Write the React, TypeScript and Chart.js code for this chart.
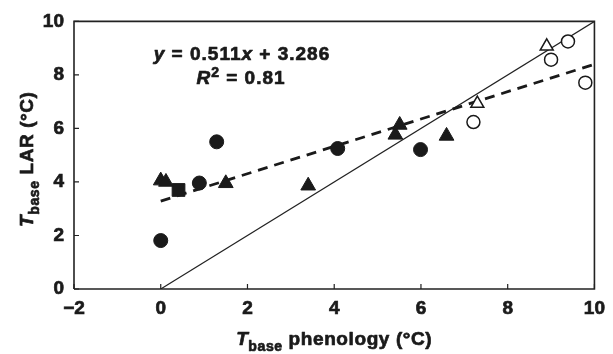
import React, { useEffect, useRef } from "react";
import { Chart, registerables } from "chart.js";

Chart.register(...registerables);

const filledCircleX = [0, 0.89, 1.29, 4.08, 5.99];
const filledCircleY = [1.81, 3.96, 5.5, 5.25, 5.21];
const filledTriangleX = [0, 0.12, 1.5, 3.4, 5.41, 5.51, 6.59];
const filledTriangleY = [4.05, 4.0, 3.95, 3.86, 5.76, 6.13, 5.72];
const filledSquareX = [0.41];
const filledSquareY = [3.7];
const openCircleX = [7.21, 9.0, 9.39, 9.79];
const openCircleY = [6.24, 8.57, 9.25, 7.71];
const openTriangleX = [7.3, 8.9];
const openTriangleY = [6.93, 9.07];
const oneToOneX = [0, 10];
const oneToOneY = [0, 10];
const regressionX = [0, 10];
const regressionY = [3.286, 8.396];

const xTicks = [-2, 0, 2, 4, 6, 8, 10];
const yTicks = [0, 2, 4, 6, 8, 10];

const FONT = '"Liberation Sans", Arial, sans-serif';
const INK = "#1a1a1a";

const pts = (xs: number[], ys: number[]) => xs.map((x, i) => ({ x, y: ys[i] }));

function drawSegments(ctx: CanvasRenderingContext2D, segs: any[], cx: number, baseline: number, spacing: string) {
  ctx.save();
  (ctx as any).letterSpacing = spacing;
  let total = 0;
  const widths = segs.map((s) => {
    ctx.font = s.font;
    const w = ctx.measureText(s.t).width;
    total += w;
    return w;
  });
  let x = cx - total / 2;
  ctx.textAlign = "left";
  ctx.textBaseline = "alphabetic";
  ctx.fillStyle = INK;
  ctx.strokeStyle = INK;
  ctx.lineWidth = 0.7;
  ctx.lineJoin = "round";
  segs.forEach((s, i) => {
    ctx.font = s.font;
    ctx.fillText(s.t, x, baseline + (s.dy || 0));
    ctx.strokeText(s.t, x, baseline + (s.dy || 0));
    x += widths[i];
  });
  ctx.restore();
}

const decorPlugin = {
  id: "decor",
  afterDraw(chart: any) {
    const ctx = chart.ctx as CanvasRenderingContext2D;
    const { left, right, top, bottom } = chart.chartArea;
    const xs = chart.scales.x;
    const ys = chart.scales.y;
    ctx.save();
    ctx.strokeStyle = "#222";
    ctx.lineWidth = 1.6;
    ctx.beginPath();
    ctx.moveTo(left, bottom);
    ctx.lineTo(left, top);
    ctx.lineTo(right, top);
    ctx.lineTo(right, bottom);
    ctx.lineTo(left, bottom);
    ctx.stroke();
    ctx.lineWidth = 1.2;
    ctx.beginPath();
    xTicks.forEach((v) => {
      const px = xs.getPixelForValue(v);
      ctx.moveTo(px, bottom);
      ctx.lineTo(px, bottom - 5);
    });
    yTicks.forEach((v) => {
      const py = ys.getPixelForValue(v);
      ctx.moveTo(left, py);
      ctx.lineTo(left + 5, py);
    });
    ctx.stroke();
    ctx.restore();

    const big = `bold 19px ${FONT}`;
    const bigIt = `italic bold 19px ${FONT}`;
    const small = `bold 14px ${FONT}`;
    const cx = (left + right) / 2;
    drawSegments(ctx, [
      { t: "T", font: bigIt },
      { t: "base", font: small, dy: 6 },
      { t: " phenology (°C)", font: big },
    ], cx, 345, "0.6px");
    ctx.save();
    ctx.translate(33, (top + bottom) / 2 + 4);
    ctx.rotate(-Math.PI / 2);
    drawSegments(ctx, [
      { t: "T", font: bigIt },
      { t: "base", font: small, dy: 6 },
      { t: " LAR (°C)", font: big },
    ], 0, 0, "0.6px");
    ctx.restore();
    drawSegments(ctx, [
      { t: "y", font: bigIt },
      { t: " = 0.511", font: big },
      { t: "x", font: bigIt },
      { t: " + 3.286", font: big },
    ], 242, 60, "1px");
    drawSegments(ctx, [
      { t: "R", font: bigIt },
      { t: "2", font: small, dy: -7 },
      { t: " = 0.81", font: big },
    ], 241, 84, "1px");
  },
};

export default function App() {
  const ref = useRef<HTMLCanvasElement>(null);
  useEffect(() => {
    document.body.style.margin = "0";
    const chart = new Chart(ref.current as HTMLCanvasElement, {
      type: "scatter",
      data: {
        datasets: [
          {
            type: "line",
            data: pts(oneToOneX, oneToOneY),
            borderColor: "#222",
            borderWidth: 1.2,
            pointRadius: 0,
            fill: false,
            order: 10,
          } as any,
          {
            type: "line",
            data: pts(regressionX, regressionY),
            borderColor: INK,
            borderWidth: 2.8,
            borderDash: [10, 7],
            pointRadius: 0,
            fill: false,
            order: 9,
          } as any,
          {
            data: pts(filledCircleX, filledCircleY),
            pointStyle: "circle",
            pointRadius: 7,
            backgroundColor: INK,
            borderColor: INK,
            borderWidth: 1,
          },
          {
            data: pts(filledTriangleX, filledTriangleY),
            pointStyle: "triangle",
            pointRadius: 8.5,
            backgroundColor: INK,
            borderColor: INK,
            borderWidth: 1,
          },
          {
            data: pts(filledSquareX, filledSquareY),
            pointStyle: "rect",
            pointRadius: 9,
            backgroundColor: INK,
            borderColor: INK,
            borderWidth: 1,
          },
          {
            data: pts(openCircleX, openCircleY),
            pointStyle: "circle",
            pointRadius: 6.5,
            backgroundColor: "#fff",
            borderColor: INK,
            borderWidth: 1.5,
          },
          {
            data: pts(openTriangleX, openTriangleY),
            pointStyle: "triangle",
            pointRadius: 7.5,
            backgroundColor: "#fff",
            borderColor: INK,
            borderWidth: 1.5,
          },
        ],
      },
      options: {
        responsive: false,
        animation: false,
        layout: { padding: { top: 18, right: 13, left: 0, bottom: 0 } },
        plugins: { legend: { display: false }, tooltip: { enabled: false } },
        scales: {
          x: {
            type: "linear",
            min: -2,
            max: 10,
            afterFit: (s: any) => { s.height = 65; },
            afterBuildTicks: (s: any) => { s.ticks = xTicks.map((v) => ({ value: v })); },
            grid: { display: false, drawTicks: false },
            border: { display: false },
            ticks: {
              padding: 8,
              color: INK,
              textStrokeColor: INK,
              textStrokeWidth: 0.7,
              font: { family: FONT, size: 19, weight: "bold" },
              callback: (v: any) => (v < 0 ? "\u2212" + Math.abs(v) : String(v)),
            } as any,
          },
          y: {
            type: "linear",
            min: 0,
            max: 10,
            afterFit: (s: any) => { s.width = 74; },
            afterBuildTicks: (s: any) => { s.ticks = yTicks.map((v) => ({ value: v })); },
            grid: { display: false, drawTicks: false },
            border: { display: false },
            ticks: {
              padding: 10,
              color: INK,
              textStrokeColor: INK,
              textStrokeWidth: 0.7,
              font: { family: FONT, size: 19, weight: "bold" },
            } as any,
          },
        },
      },
      plugins: [decorPlugin],
    });
    return () => chart.destroy();
  }, []);
  return (
    <div style={{ width: 613, height: 354, background: "#fff" }}>
      <canvas ref={ref} width={613} height={354} style={{ display: "block" }} />
    </div>
  );
}
